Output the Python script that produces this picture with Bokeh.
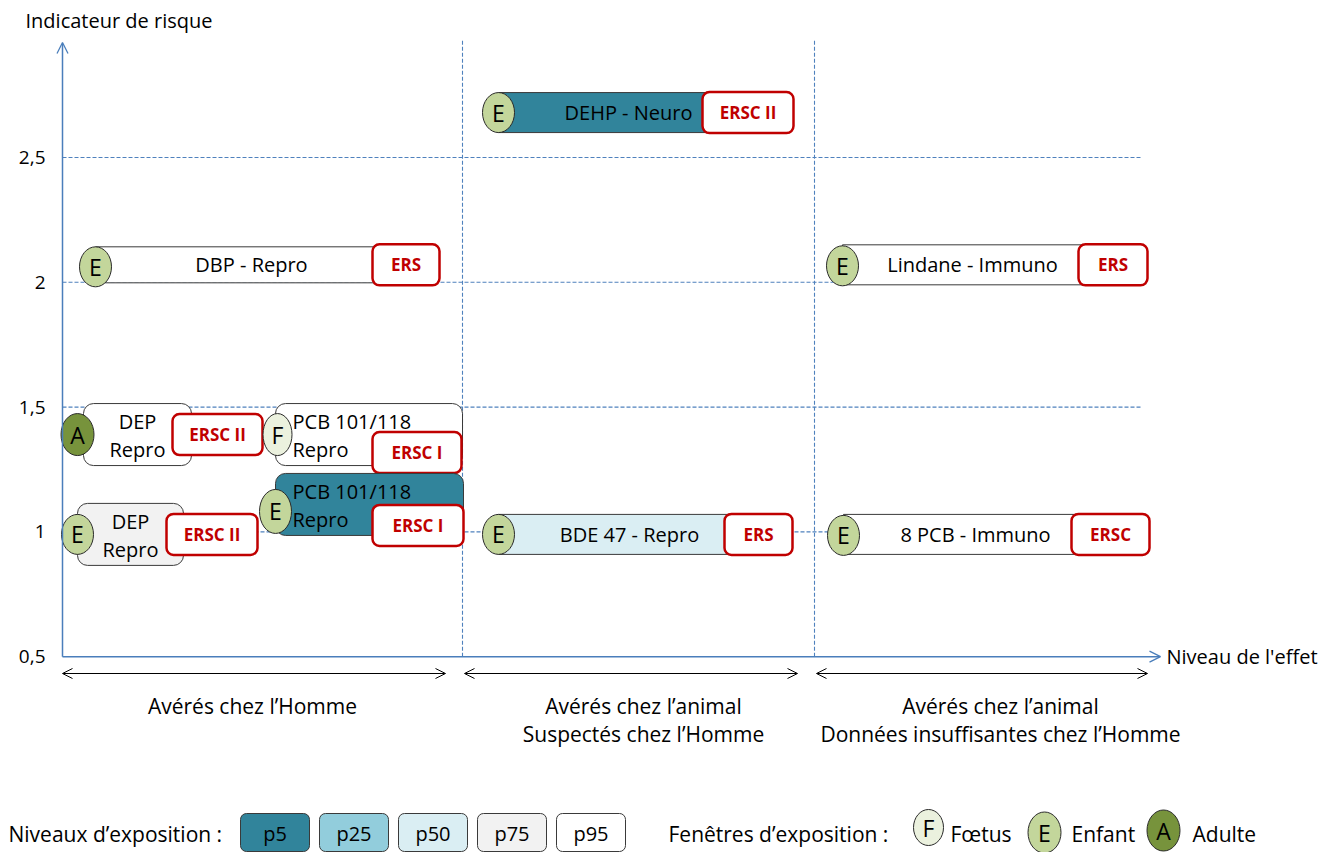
from bokeh.plotting import figure
from bokeh.models import Range1d, Arrow, OpenHead
from bokeh.core.properties import value
from bokeh.embed import file_html
from bokeh.resources import INLINE

# ---------------- data ----------------
substances = ["DEHP - Neuro", "DBP - Repro", "Lindane - Immuno", "DEP\nRepro",
              "PCB 101/118\nRepro", "PCB 101/118\nRepro", "DEP\nRepro",
              "BDE 47 - Repro", "8 PCB - Immuno"]
windows = ["E", "E", "E", "A", "F", "E", "E", "E", "E"]
levels = ["p5", "p95", "p95", "p95", "p95", "p5", "p75", "p50", "p95"]
methods = ["ERSC II", "ERS", "ERS", "ERSC II", "ERSC I", "ERSC I", "ERSC II", "ERS", "ERSC"]
risk = [2.68, 2.07, 2.07, 1.39, 1.39, 1.11, 0.99, 0.99, 0.99]
effect_start = [4.36, 0.33, 7.80, 0.21, 2.13, 2.13, 0.15, 4.36, 7.81]
effect_end = [7.00, 3.50, 10.38, 1.29, 4.00, 4.01, 1.21, 6.94, 10.38]
method_start = [6.40, 3.10, 10.16, 1.10, 3.10, 3.10, 1.04, 6.62, 10.09]
method_end = [7.31, 3.77, 10.85, 2.00, 3.99, 4.01, 1.95, 7.30, 10.87]

y_ticks = [0.5, 1.0, 1.5, 2.0, 2.5]
y_tick_labels = ["0,5", "1", "1,5", "2", "2,5"]
category_labels = [["Avérés chez l’Homme"],
                   ["Avérés chez l’animal", "Suspectés chez l’Homme"],
                   ["Avérés chez l’animal", "Données insuffisantes chez l’Homme"]]
category_bounds = [4.0, 7.52]
level_names = ["p5", "p25", "p50", "p75", "p95"]
level_colors = ["#31849B", "#92CDDC", "#DAEEF3", "#F2F2F2", "#FFFFFF"]
window_names = ["F", "E", "A"]
window_labels = ["Fœtus", "Enfant", "Adulte"]
window_colors = ["#EBF1DE", "#C3D69B", "#77933C"]

# ---------------- layout ----------------
W, H = 1344, 852
PX_X = 100.0     # pixels per effect unit
PX_Y = 249.6     # pixels per risk unit
X0_PAGE = 62.0
Y_REF_PAGE, Y_REF = 406.6, 1.5


def X(px):
    return (px - X0_PAGE) / PX_X


def Y(py):
    return Y_REF + (Y_REF_PAGE - py) / PX_Y


FONT = value("Open Sans")
AXIS_BLUE = "#4A7EBB"
GRID_BLUE = "#4F81BD"
RED = "#C00000"

label_x = [5.66, 1.89, 9.10, 0.75, 2.30, 2.30, 0.68, 5.67, 9.13]
label_align = ["center", "center", "center", "center", "left", "left", "center", "center", "center"]
box_h = [40, 36, 40, 62, 62, 62, 62, 40, 40]
box_radius = [0, 0, 0, 10, 10, 10, 10, 0, 0]
ell_dx = [0, 0, 0, -6, 2, 0, 0, 0, 0]
ell_dy = [0, 2, 1, 0, 0, 7, 0, 0, 1]
ell_w = [32, 32, 32, 33, 29, 32, 32, 32, 32]
ell_h = [40, 40, 40, 42, 42, 44, 40, 40, 40]
meth_dy = [0, 0, 0, 0, -18, -21, 0, 0, 0]
meth_h = 41

p = figure(width=W, height=H,
           x_range=Range1d(X(0), X(W)),
           y_range=Range1d(Y(H), Y(0)),
           min_border=0, min_border_left=0, min_border_right=0,
           min_border_top=0, min_border_bottom=0,
           toolbar_location=None, output_backend="svg")
p.axis.visible = False
p.grid.visible = False
p.outline_line_color = None
p.background_fill_color = "white"
p.border_fill_color = "white"

y_axis_top = Y(42)
x_axis_end = X(1160)

# grid lines
grid_y = y_ticks[1:]
p.segment(x0=[0] * len(grid_y), x1=[X(1140)] * len(grid_y), y0=grid_y, y1=grid_y,
          line_color=GRID_BLUE, line_width=1.1, line_dash="4 2")
p.segment(x0=category_bounds, x1=category_bounds, y0=[y_ticks[0]] * 2,
          y1=[Y(40)] * 2, line_color=GRID_BLUE, line_width=1.1, line_dash="4 2")

# axes
p.add_layout(Arrow(end=OpenHead(size=11, line_color=AXIS_BLUE, line_width=1.3),
                   x_start=0, y_start=y_ticks[0], x_end=0, y_end=y_axis_top,
                   line_color=AXIS_BLUE, line_width=1.5))
p.add_layout(Arrow(end=OpenHead(size=11, line_color=AXIS_BLUE, line_width=1.3),
                   x_start=0, y_start=y_ticks[0], x_end=x_axis_end, y_end=y_ticks[0],
                   line_color=AXIS_BLUE, line_width=1.5))
p.text(x=[X(45)] * len(y_ticks), y=y_ticks, text=y_tick_labels, text_font=FONT,
       text_font_size="19px", text_align="right", text_baseline="middle", text_color="black")
p.text(x=[X(25)], y=[Y(20)], text=["Indicateur de risque"], text_font=FONT,
       text_font_size="20px", text_align="left", text_baseline="middle", text_color="black")
p.text(x=[x_axis_end + 0.06], y=[y_ticks[0]], text=["Niveau de l'effet"], text_font=FONT,
       text_font_size="20px", text_align="left", text_baseline="middle", text_color="black")

# category arrows and labels
cat_lo = [0, category_bounds[0], category_bounds[1]]
cat_hi = [category_bounds[0], category_bounds[1], X(1147) + 0.17]
arrow_y = Y(673)
for lo, hi in zip(cat_lo, cat_hi):
    a0 = lo + (0.0 if lo == 0 else 0.02)
    a1 = hi - 0.17
    p.add_layout(Arrow(start=OpenHead(size=10, line_color="black", line_width=1),
                       end=OpenHead(size=10, line_color="black", line_width=1),
                       x_start=a0, y_start=arrow_y, x_end=a1, y_end=arrow_y,
                       line_color="black", line_width=1.2))
cat_center = [X(252), X(643), X(1000)]
for cx, lines in zip(cat_center, category_labels):
    for i, line in enumerate(lines):
        p.text(x=[cx], y=[Y(705 + 28 * i)], text=[line], text_font=FONT,
               text_font_size="21px", text_align="center", text_baseline="middle",
               text_color="black")

# items
level_color = dict(zip(level_names, level_colors))
window_color = dict(zip(window_names, window_colors))
for i in range(len(substances)):
    yc = risk[i]
    hh = box_h[i] / 2 / PX_Y
    p.quad(left=[effect_start[i]], right=[effect_end[i]], top=[yc + hh], bottom=[yc - hh],
           fill_color=level_color[levels[i]], line_color="#3A3A3A", line_width=1,
           border_radius=box_radius[i])
    ex = effect_start[i] + ell_dx[i] / PX_X
    ey = yc - ell_dy[i] / PX_Y
    p.ellipse(x=[ex], y=[ey], width=ell_w[i], height=ell_h[i],
              width_units="screen", height_units="screen",
              fill_color=window_color[windows[i]], line_color="#2A2A2A", line_width=1)
    p.text(x=[ex], y=[ey], text=[windows[i]], text_font=FONT, text_font_size="23px",
           text_align="center", text_baseline="middle", text_color="black")
    mh = meth_h / 2 / PX_Y
    my = yc + meth_dy[i] / PX_Y
    p.quad(left=[method_start[i]], right=[method_end[i]], top=[my + mh], bottom=[my - mh],
           fill_color="white", line_color=RED, line_width=2.5, border_radius=7)
    p.text(x=[(method_start[i] + method_end[i]) / 2], y=[my], text=[methods[i]],
           text_font=FONT, text_font_size="17px", text_font_style="bold",
           text_align="center", text_baseline="middle", text_color=RED)
    lines = substances[i].split("\n")
    offs = [0] if len(lines) == 1 else [13, -15]
    for line, off in zip(lines, offs):
        p.text(x=[label_x[i]], y=[yc + off / PX_Y], text=[line], text_font=FONT,
               text_font_size="20px", text_align=label_align[i], text_baseline="middle",
               text_color="black")

# legend: exposure levels
leg_y = Y(833)
p.text(x=[X(8)], y=[leg_y], text=["Niveaux d’exposition :"], text_font=FONT,
       text_font_size="21px", text_align="left", text_baseline="middle", text_color="black")
lw = 0.69
lgap = 0.10
lstart = X(240)
lefts = [lstart + k * (lw + lgap) for k in range(len(level_names))]
rights = [l + lw for l in lefts]
p.quad(left=lefts, right=rights, top=[Y(813)] * 5, bottom=[Y(851)] * 5,
       fill_color=level_colors, line_color="#3A3A3A", line_width=1, border_radius=6)
p.text(x=[(l + r) / 2 for l, r in zip(lefts, rights)], y=[leg_y] * 5, text=level_names,
       text_font=FONT, text_font_size="20px", text_align="center", text_baseline="middle",
       text_color="black")

# legend: exposure windows
p.text(x=[X(668)], y=[leg_y], text=["Fenêtres d’exposition :"], text_font=FONT,
       text_font_size="21px", text_align="left", text_baseline="middle", text_color="black")
wx = [X(928), X(1044), X(1163)]
wy = [Y(827), Y(832), Y(830)]
p.ellipse(x=wx, y=wy, width=[30, 33, 33], height=[36, 41, 41],
          width_units="screen", height_units="screen",
          fill_color=window_colors, line_color="#2A2A2A", line_width=1)
p.text(x=wx, y=wy, text=window_names, text_font=FONT,
       text_font_size="23px", text_align="center", text_baseline="middle", text_color="black")
p.text(x=[X(950), X(1071), X(1192)], y=[leg_y] * 3, text=window_labels, text_font=FONT,
       text_font_size="21px", text_align="left", text_baseline="middle", text_color="black")

open("out.html", "w").write(file_html(p, INLINE))
